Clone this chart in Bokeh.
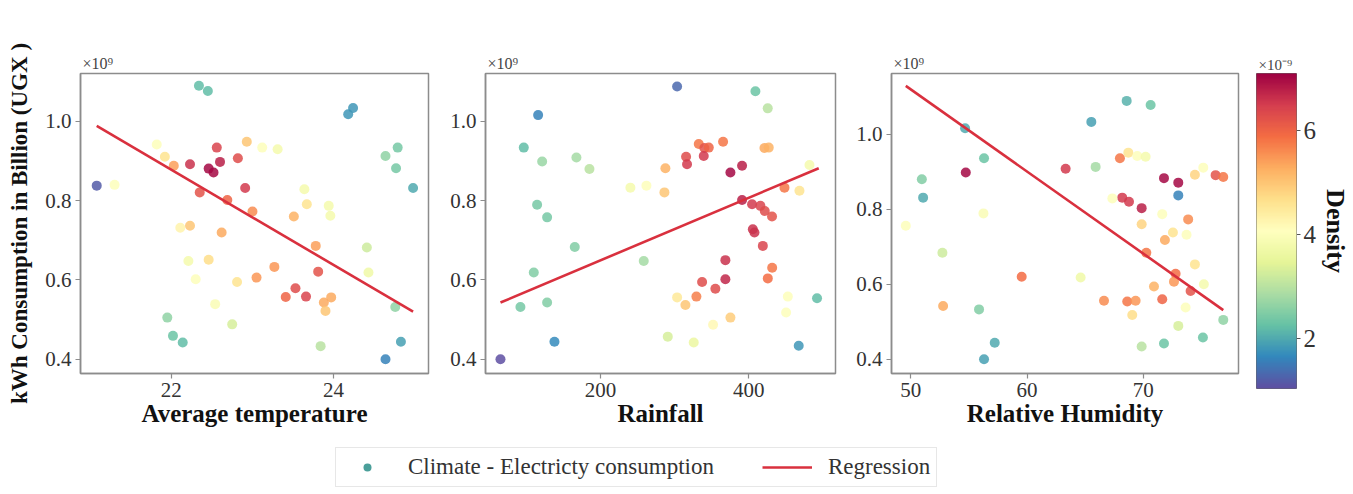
import numpy as np
from bokeh.plotting import figure
from bokeh.models import (Range1d, FixedTicker, LinearAxis, ColorBar, LinearColorMapper,
                          Legend, LegendItem, ColumnDataSource, NumeralTickFormatter)
from bokeh.layouts import row, column
from bokeh.embed import file_html
from bokeh.resources import INLINE

# ---------------- data (consumption in units of 1e9, density in units of 1e-9) ----------------
temp_x = [21.08, 22.34, 22.45, 24.18, 24.24, 24.64, 24.79, 24.77, 24.98, 21.95, 22.02, 22.14,
          24.64, 24.83, 24.76, 23.84, 22.75, 24.41, 24.43, 22.23, 22.56, 22.46, 22.52, 22.60,
          22.82, 22.91, 22.35, 22.69, 23.00, 22.93, 23.12, 23.31, 21.92, 22.03, 21.82, 22.23,
          22.11, 22.62, 22.21, 22.46, 22.30, 22.81, 22.54, 23.05, 23.27, 23.41, 23.53, 23.66,
          23.81, 23.78, 23.51, 23.67, 23.64, 23.94, 23.96, 23.88, 23.97, 23.90, 21.30]
temp_y = [0.838, 1.090, 1.077, 1.018, 1.034, 0.913, 0.934, 0.882, 0.832, 0.505, 0.459, 0.442,
          0.400, 0.444, 0.532, 0.433, 0.488, 0.682, 0.619, 0.892, 0.934, 0.881, 0.871, 0.898,
          0.907, 0.832, 0.821, 0.802, 0.773, 0.949, 0.934, 0.930, 0.911, 0.888, 0.942, 0.737,
          0.732, 0.720, 0.648, 0.651, 0.602, 0.595, 0.539, 0.606, 0.633, 0.557, 0.579, 0.558,
          0.621, 0.686, 0.760, 0.791, 0.829, 0.787, 0.762, 0.543, 0.556, 0.522, 0.840]
temp_d = [1.2, 2.2, 2.2, 1.8, 1.8, 2.6, 2.4, 2.4, 2.0, 2.6, 2.3, 2.2,
          1.6, 1.9, 2.6, 3.0, 3.3, 3.2, 3.7, 6.6, 6.4, 7.0, 7.0, 6.8,
          6.3, 6.5, 6.2, 6.0, 5.6, 5.0, 4.0, 3.8, 4.6, 5.4, 4.0, 5.0,
          4.3, 5.3, 3.8, 4.7, 4.0, 4.6, 3.9, 5.5, 5.5, 6.0, 6.3, 6.4,
          6.2, 5.4, 5.2, 4.6, 3.8, 3.8, 3.8, 5.3, 5.3, 5.0, 4.0]

rain_x = [65.2, 303.4, 116.0, 138.0, 467.4, 96.6, 121.4, 114.6, 128.1, 165.4, 110.1, 92.1,
          128.1, 167.6, 185.2, 258.4, 409.0, 425.6, 492.1, 290.8, 325.8, 240.4, 262.0, 287.6,
          286.3, 303.4, 314.6, 329.4, 337.1, 355.0, 368.5, 368.5, 351.9, 375.3, 315.5, 316.8,
          332.6, 340.2, 346.1, 339.3, 365.4, 375.3, 391.0, 391.0, 404.5, 415.7, 421.6, 431.4,
          405.5, 407.7, 419.0, 431.6, 425.7, 421.2, 427.0, 448.2, 468.4, 481.9, 452.7, 450.4]
rain_y = [0.400, 1.088, 1.016, 0.444, 0.434, 0.934, 0.899, 0.790, 0.758, 0.683, 0.619, 0.532,
          0.543, 0.909, 0.880, 0.648, 1.076, 1.033, 0.554, 0.457, 0.442, 0.833, 0.838, 0.882,
          0.821, 0.556, 0.537, 0.558, 0.595, 0.578, 0.602, 0.650, 0.487, 0.505, 0.911, 0.892,
          0.943, 0.933, 0.934, 0.913, 0.949, 0.871, 0.888, 0.802, 0.791, 0.787, 0.774, 0.760,
          0.728, 0.720, 0.686, 0.631, 0.604, 0.933, 0.934, 0.833, 0.825, 0.890, 0.558, 0.518]
rain_d = [1.0, 1.3, 1.6, 1.7, 1.8, 2.2, 2.7, 2.4, 2.4, 2.5, 2.5, 2.4,
          2.5, 2.8, 3.0, 2.8, 2.3, 3.0, 2.2, 3.3, 3.6, 3.8, 4.0, 5.2,
          5.0, 4.5, 5.0, 5.7, 6.3, 6.3, 6.7, 6.6, 4.2, 4.9, 6.3, 6.5,
          5.8, 6.2, 6.0, 6.5, 5.8, 7.0, 6.8, 6.8, 6.5, 6.4, 6.3, 6.2,
          6.6, 6.6, 6.4, 5.8, 5.9, 5.3, 5.2, 5.8, 4.6, 3.8, 4.0, 4.0]

hum_x = [54.67, 54.73, 56.30, 50.95, 51.06, 49.57, 56.25, 52.72, 52.78, 55.87, 57.22, 56.30,
         59.54, 63.32, 64.61, 65.53, 68.57, 70.63, 65.90, 67.99, 68.71, 69.48, 70.20, 68.19,
         68.77, 69.86, 67.34, 71.78, 73.01, 73.01, 74.44, 75.16, 76.22, 76.88, 71.63, 73.86,
         69.86, 71.86, 72.55, 73.72, 70.26, 74.44, 72.78, 72.64, 70.92, 75.21, 74.07, 71.63,
         66.62, 68.62, 69.34, 69.05, 73.64, 73.01, 76.88, 75.13, 71.78, 69.86]
hum_y = [1.016, 0.898, 0.936, 0.880, 0.831, 0.756, 0.789, 0.684, 0.542, 0.533, 0.444, 0.400,
         0.620, 0.908, 0.618, 1.033, 1.089, 1.078, 0.913, 0.936, 0.951, 0.942, 0.940, 0.831,
         0.820, 0.803, 0.829, 0.883, 0.871, 0.837, 0.892, 0.911, 0.891, 0.886, 0.787, 0.773,
         0.760, 0.718, 0.738, 0.732, 0.684, 0.653, 0.628, 0.607, 0.594, 0.600, 0.582, 0.560,
         0.556, 0.554, 0.556, 0.518, 0.538, 0.489, 0.505, 0.458, 0.442, 0.434]
hum_d = [2.0, 7.0, 2.3, 2.5, 2.0, 4.0, 3.9, 3.2, 5.3, 2.5, 2.0, 1.9,
         5.9, 6.5, 3.7, 1.9, 2.1, 2.3, 2.8, 5.8, 4.6, 4.0, 3.8, 6.5,
         6.5, 6.8, 4.0, 7.0, 7.0, 1.6, 4.8, 4.0, 6.2, 5.8, 4.0, 5.6,
         4.8, 5.3, 4.6, 4.0, 5.8, 4.6, 5.9, 5.5, 5.2, 3.8, 6.2, 6.0,
         5.6, 5.8, 5.5, 4.7, 4.0, 3.3, 2.6, 2.3, 2.3, 3.0]

# regression line end points
temp_reg_x = [21.08, 24.98]
temp_reg_y = [0.989, 0.520]
rain_reg_x = [65.2, 494.4]
rain_reg_y = [0.543, 0.882]
hum_reg_x = [49.57, 76.88]
hum_reg_y = [1.129, 0.531]

y_ticks = [0.4, 0.6, 0.8, 1.0]
temp_ticks = [22, 24]
rain_ticks = [200, 400]
hum_ticks = [50, 60, 70]
density_ticks = [2, 4, 6]
density_low, density_high = 1.04, 7.09

# ---------------- style ----------------
FONT = "Liberation Serif"
FRAME = "#8c8c8c"
REG = "#d9303e"
SPECTRAL = ['#5e4fa2', '#3288bd', '#66c2a5', '#abdda4', '#e6f598', '#ffffbf',
            '#fee08b', '#fdae61', '#f46d43', '#d53e4f', '#9e0142']


def interp_palette(cols, n):
    rgb = np.array([[int(c[i:i + 2], 16) for i in (1, 3, 5)] for c in cols], dtype=float)
    t = np.linspace(0, 1, len(cols))
    tt = np.linspace(0, 1, n)
    out = []
    for v in tt:
        r = np.interp(v, t, rgb[:, 0]); g = np.interp(v, t, rgb[:, 1]); b = np.interp(v, t, rgb[:, 2])
        out.append("#%02x%02x%02x" % (int(round(r)), int(round(g)), int(round(b))))
    return out


palette = interp_palette(SPECTRAL, 256)
mapper = LinearColorMapper(palette=palette, low=density_low, high=density_high)


def style_axes(p):
    for ax in (p.xaxis[0], p.yaxis[0]):
        ax.axis_line_color = FRAME
        ax.axis_line_width = 1.5
        ax.major_tick_line_color = FRAME
        ax.major_tick_line_width = 1.2
        ax.major_tick_in = 0
        ax.major_tick_out = 5
        ax.minor_tick_line_color = None
        ax.major_label_text_font = FONT
        ax.major_label_text_font_size = "21px"
        ax.major_label_text_color = "#333333"
        ax.major_label_standoff = 4
        ax.axis_label_text_font = FONT
        ax.axis_label_text_font_style = "bold"
        ax.axis_label_text_color = "#111111"
    p.xaxis[0].axis_label_text_font_size = "25px"
    p.xaxis[0].axis_label_standoff = 0
    p.yaxis[0].axis_label_text_font_size = "23px"
    p.yaxis[0].axis_label_standoff = 10
    p.grid.visible = False
    p.outline_line_color = FRAME
    p.outline_line_width = 1.5


def make_panel(x, y, d, rx, ry, xr, yr, xticks, xlabel, left, fw, right, ylabel=None):
    p = figure(frame_width=fw, frame_height=300, min_border_left=left, min_border_right=right,
               min_border_top=73, min_border_bottom=63,
               x_range=Range1d(*xr), y_range=Range1d(*yr),
               output_backend="svg", toolbar_location=None)
    src = ColumnDataSource(dict(x=x, y=y, d=d))
    p.scatter("x", "y", source=src, size=10, line_color=None,
              fill_color={"field": "d", "transform": mapper}, fill_alpha=0.85)
    p.line(rx, ry, line_color=REG, line_width=2.6)
    p.xaxis.ticker = FixedTicker(ticks=xticks)
    p.yaxis.ticker = FixedTicker(ticks=y_ticks)
    p.yaxis.formatter = NumeralTickFormatter(format="0.0")
    p.xaxis.axis_label = xlabel
    if ylabel:
        p.yaxis.axis_label = ylabel
    style_axes(p)
    p.title.text = "×10⁹"
    p.title.align = "left"
    p.title.offset = 2
    p.title.standoff = 4
    p.title.text_font = FONT
    p.title.text_font_style = "normal"
    p.title.text_font_size = "16px"
    p.title.text_color = "#444444"
    return p


p1 = make_panel(temp_x, temp_y, temp_d, temp_reg_x, temp_reg_y, (20.88, 25.17), (0.364, 1.121),
                temp_ticks, "Average temperature", 80, 348, 12,
                ylabel="kWh Consumption in Billion (UGX )")
p2 = make_panel(rain_x, rain_y, rain_d, rain_reg_x, rain_reg_y, (45, 517), (0.364, 1.121),
                rain_ticks, "Rainfall", 45, 350, 10)
p3 = make_panel(hum_x, hum_y, hum_d, hum_reg_x, hum_reg_y, (48.34, 78.19), (0.362, 1.162),
                hum_ticks, "Relative Humidity", 46, 347, 7)

# ---------------- colour bar ----------------
cb = figure(frame_width=40, frame_height=315, min_border_left=11, min_border_right=57,
            min_border_top=65, min_border_bottom=56,
            x_range=Range1d(0, 1), y_range=Range1d(density_low, density_high),
            x_axis_location=None, y_axis_location=None,
            output_backend="svg", toolbar_location=None)
cb.grid.visible = False
cbar = ColorBar(color_mapper=mapper, width=40, height=315, location=(0, 0), padding=0, margin=0,
                ticker=FixedTicker(ticks=[]), major_label_text_alpha=0,
                major_tick_line_color=None, bar_line_color=None, border_line_color=None,
                background_fill_alpha=0)
cb.add_layout(cbar, "center")
rax = LinearAxis(ticker=FixedTicker(ticks=density_ticks), axis_label="Density")
rax.axis_line_color = None
rax.major_tick_line_color = "#555555"
rax.major_tick_in = 0
rax.major_tick_out = 4
rax.minor_tick_line_color = None
rax.major_label_text_font = FONT
rax.major_label_text_font_size = "25px"
rax.major_label_text_color = "#333333"
rax.major_label_standoff = 3
rax.axis_label_text_font = FONT
rax.axis_label_text_font_style = "bold"
rax.axis_label_text_font_size = "26px"
rax.axis_label_text_color = "#111111"
rax.axis_label_standoff = 2
cb.add_layout(rax, "right")
cb.outline_line_color = "#666666"
cb.outline_line_width = 1
cb.title.text = "×10⁻⁹"
cb.title.align = "left"
cb.title.offset = 2
cb.title.standoff = 2
cb.title.text_font = FONT
cb.title.text_font_style = "normal"
cb.title.text_font_size = "15px"
cb.title.text_color = "#444444"

# ---------------- legend ----------------
lf = figure(width=1353, height=58, min_border=0, x_range=Range1d(0, 1), y_range=Range1d(0, 1),
            x_axis_location=None, y_axis_location=None,
            output_backend="svg", toolbar_location=None)
lf.grid.visible = False
lf.outline_line_color = None
# legend proxies placed outside the visible range
r1 = lf.scatter(x=[5], y=[5], size=10, fill_color="#4a9f9a", line_color=None)
r2 = lf.line(x=[5, 6], y=[5, 5], line_color=REG, line_width=2.6)
legend = Legend(items=[LegendItem(label="Climate - Electricty consumption", renderers=[r1]),
                       LegendItem(label="Regression", renderers=[r2])],
                orientation="horizontal", location=(335, 7))
legend.label_text_font = FONT
legend.label_text_font_size = "23px"
legend.label_text_color = "#333333"
legend.glyph_width = 50
legend.glyph_height = 20
legend.label_standoff = 16
legend.spacing = 48
legend.padding = 6
legend.margin = 0
legend.border_line_color = "#d0d0d0"
legend.border_line_width = 1.2
legend.background_fill_alpha = 1
lf.add_layout(legend, "center")

layout = column(row(p1, p2, p3, cb), lf)
open("out.html", "w").write(file_html(layout, INLINE))
